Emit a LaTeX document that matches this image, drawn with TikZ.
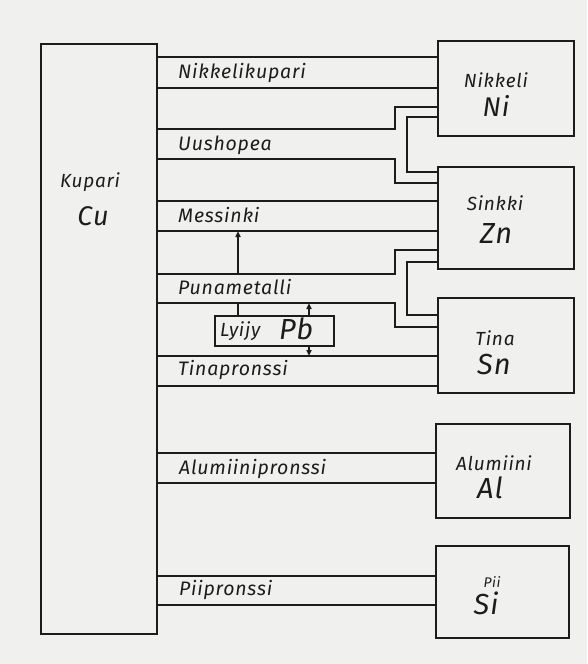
\documentclass[tikz,border=0pt]{standalone}
\usepackage{fontspec}
\setmainfont{Fira Sans}
\newfontfamily\lf[LetterSpace=4]{Fira Sans}
\usetikzlibrary{arrows.meta}
\definecolor{paper}{RGB}{240,240,238}
\definecolor{ink}{RGB}{28,28,28}
\begin{document}
\begin{tikzpicture}[x=1pt,y=-1pt,
 elem/.style={draw=ink, line width=2.4pt, rectangle, inner sep=0pt, anchor=north west},
 wire/.style={draw=ink, line width=1.6pt},
 lab/.style={font=\fontsize{19.5}{22}\lf\itshape, text=ink, anchor=west, inner sep=0pt},
 small/.style={font=\fontsize{19}{22}\lf\itshape, text=ink, inner sep=0pt},
 big/.style={font=\fontsize{29}{32}\lf\itshape, text=ink, inner sep=0pt},
 tip/.style={-{Triangle[length=6pt,width=5pt]}}
]
\fill[paper] (0,0) rectangle (587,664);
\useasboundingbox (0,0) rectangle (587,664);

% element boxes
\node[elem, minimum width=116pt, minimum height=590pt] (cu) at (40,43) {};
\node[elem, minimum width=136pt, minimum height=95pt] (ni) at (437,40) {};
\node[elem, minimum width=136pt, minimum height=102pt] (zn) at (437,166) {};
\node[elem, minimum width=136pt, minimum height=95pt] (sn) at (437,297) {};
\node[elem, minimum width=134pt, minimum height=94pt] (al) at (435,423) {};
\node[elem, minimum width=133pt, minimum height=92pt] (si) at (435,545) {};
\node[elem, line width=1.8pt, minimum width=119pt, minimum height=30pt] (pb) at (214,315) {};

% box texts
\node[small] (cut) at (90,182) {Kupari};
\node[big, font=\fontsize{27}{30}\lf\itshape] (cus) at (93,216) {Cu};
\node[small] (nit) at (496,80) {Nikkeli};
\node[big, font=\fontsize{27}{30}\lf\itshape] (nis) at (496,106) {Ni};
\node[small] (znt) at (495,203) {Sinkki};
\node[big] (zns) at (496,234) {Zn};
\node[small] (snt) at (495,338) {Tina};
\node[big] (sns) at (494,365) {Sn};
\node[small] (alt) at (494,463) {Alumiini};
\node[big] (als) at (490,488) {Al};
\node[small, font=\fontsize{14}{16}\lf\itshape] (sit) at (492,582) {Pii};
\node[big] (sis) at (486,603) {Si};
\node[small, anchor=west] (pbt) at (220,331) {Lyijy};
\node[big, anchor=west] (pbs) at (279,329) {Pb};

% alloy channels
\draw[wire] (cu.east |- 0,57) -- (ni.west |- 0,57);
\draw[wire] (cu.east |- 0,88) -- (ni.west |- 0,88);
\node[lab] (l1) at (178,73) {Nikkelikupari};

\draw[wire] (cu.east |- 0,129) -- (395,129) |- (ni.west |- 0,107);
\draw[wire] (cu.east |- 0,159) -- (395,159) |- (zn.west |- 0,183);
\draw[wire] (ni.west |- 0,117) -| (407,150) |- (zn.west |- 0,172);
\node[lab] (l2) at (178,145) {Uushopea};

\draw[wire] (cu.east |- 0,201) -- (zn.west |- 0,201);
\draw[wire] (cu.east |- 0,231) -- (zn.west |- 0,231);
\node[lab] (l3) at (178,215) {Messinki};

\draw[wire] (cu.east |- 0,274) -- (395,274) |- (zn.west |- 0,250);
\draw[wire] (cu.east |- 0,303) -- (395,303) |- (sn.west |- 0,327);
\draw[wire] (zn.west |- 0,262) -| (407,290) |- (sn.west |- 0,315);
\node[lab] (l4) at (178,287) {Punametalli};

\draw[wire] (cu.east |- 0,356) -- (sn.west |- 0,356);
\draw[wire] (cu.east |- 0,386) -- (sn.west |- 0,386);
\node[lab] (l5) at (178,370) {Tinapronssi};

\draw[wire] (cu.east |- 0,453) -- (al.west |- 0,453);
\draw[wire] (cu.east |- 0,483) -- (al.west |- 0,483);
\node[lab] (l6) at (179,469) {Alumiinipronssi};

\draw[wire] (cu.east |- 0,576) -- (si.west |- 0,576);
\draw[wire] (cu.east |- 0,605) -- (si.west |- 0,605);
\node[lab] (l7) at (179,590) {Piipronssi};

% arrows
\coordinate (a1) at (238,274);
\coordinate (a2) at (238,231);
\draw[wire, tip] (a1) -- (a2);
\coordinate (b1) at (238,303);
\draw[wire] (pb.north -| b1) -- (b1);
\coordinate (c1) at (309,303);
\coordinate (c2) at (309,356);
\draw[wire, tip] (pb.north -| c1) -- (c1);
\draw[wire, tip] (pb.south -| c2) -- (c2);
\end{tikzpicture}
\end{document}
